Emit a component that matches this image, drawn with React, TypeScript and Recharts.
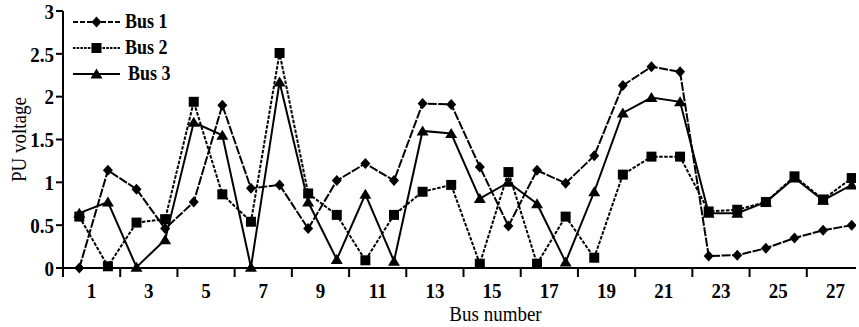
import { Legend, Line, LineChart, XAxis, YAxis } from "recharts";

const busNumbers = [
  1, 2, 3, 4, 5, 6, 7, 8, 9, 10, 11, 12, 13, 14, 15, 16, 17, 18, 19, 20, 21,
  22, 23, 24, 25, 26, 27, 28,
];
const bus1 = [
  0, 1.14, 0.92, 0.46, 0.77, 1.9, 0.93, 0.97, 0.46, 1.02, 1.22, 1.02, 1.92,
  1.91, 1.18, 0.49, 1.14, 0.99, 1.31, 2.13, 2.35, 2.29, 0.14, 0.15, 0.23, 0.35,
  0.44, 0.5,
];
const bus2 = [
  0.6, 0.02, 0.53, 0.57, 1.94, 0.86, 0.54, 2.51, 0.87, 0.62, 0.09, 0.62, 0.89,
  0.97, 0.05, 1.12, 0.05, 0.6, 0.12, 1.09, 1.3, 1.3, 0.66, 0.68, 0.77, 1.07,
  0.8, 1.05,
];
const bus3 = [
  0.64, 0.77, 0.01, 0.33, 1.7, 1.55, 0.01, 2.17, 0.77, 0.1, 0.86, 0.08, 1.6,
  1.57, 0.81, 1.0, 0.75, 0.07, 0.89, 1.81, 1.99, 1.94, 0.64, 0.64, 0.77, 1.05,
  0.79, 0.97,
];
const yTicks = [0, 0.5, 1, 1.5, 2, 2.5, 3];
const xTickLabels = [1, 3, 5, 7, 9, 11, 13, 15, 17, 19, 21, 23, 25, 27];

// labels sit between the tick marks, ticks fall just before every odd bus
const SHIFT = 0.43;
const labelPos = xTickLabels.map((n) => n + SHIFT);
const tickPos = xTickLabels.map((n) => n - 1 + SHIFT);
const X_DOMAIN = [SHIFT, 28.15];

const data = busNumbers.map((bus, i) => ({
  bus,
  bus1: bus1[i],
  bus2: bus2[i],
  bus3: bus3[i],
}));

const series = [
  { key: "bus1", name: "Bus 1", dash: "9 1.5", shape: "diamond" },
  { key: "bus2", name: "Bus 2", dash: "3.5 1.5", shape: "square" },
  { key: "bus3", name: "Bus 3", dash: undefined, shape: "triangle" },
];

const FONT = "'Liberation Serif', 'Times New Roman', serif";
const STRETCH = "scale(1,1.15)"; // source text is a bit taller than Times

function markerPath(shape: string, x: number, y: number) {
  if (shape === "diamond")
    return `M${x},${y - 5.5}L${x + 5},${y}L${x},${y + 5.5}L${x - 5},${y}Z`;
  if (shape === "square") return `M${x - 5},${y - 5}h10v10h-10Z`;
  return `M${x},${y - 5.5}L${x + 6},${y + 4.5}L${x - 6},${y + 4.5}Z`;
}

const makeDot = (shape: string) => (props: any) => {
  const { cx, cy, index } = props;
  if (cx == null || cy == null) return <g key={index} />;
  return <path key={index} d={markerPath(shape, cx, cy)} fill="#000" />;
};

const XTick = (props: any) => {
  const { x, y, payload } = props;
  return (
    <g transform={`translate(${x},${y}) ${STRETCH}`}>
      <text
        textAnchor="middle"
        dy="0.71em"
        fontFamily={FONT}
        fontWeight="bold"
        fontSize={19}
        fill="#000"
      >
        {Math.round(payload.value - SHIFT)}
      </text>
    </g>
  );
};

const YTick = (props: any) => {
  const { x, y, payload } = props;
  return (
    <g transform={`translate(${x},${y}) ${STRETCH}`}>
      <text
        textAnchor="end"
        dy="0.355em"
        fontFamily={FONT}
        fontWeight="bold"
        fontSize={19}
        fill="#000"
      >
        {payload.value}
      </text>
    </g>
  );
};

const XTitle = (props: any) => {
  const vb = props.viewBox;
  const x = vb.x + vb.width / 2 + 36;
  const y = vb.y + vb.height - 6;
  return (
    <g transform={`translate(${x},${y}) ${STRETCH}`}>
      <text textAnchor="middle" fontFamily={FONT} fontSize={19} fill="#000">
        Bus number
      </text>
    </g>
  );
};

const YTitle = (props: any) => {
  const vb = props.viewBox;
  const y = vb.y + vb.height / 2;
  return (
    <g transform={`translate(18,${y}) rotate(-90) ${STRETCH}`}>
      <text
        textAnchor="middle"
        dy="0.355em"
        fontFamily={FONT}
        fontSize={19}
        fill="#000"
      >
        PU voltage
      </text>
    </g>
  );
};

const LegendBox = () => (
  <svg width={120} height={90} style={{ display: "block" }}>
    {series.map((s, i) => {
      const y = 14 + i * 26;
      return (
        <g key={s.key}>
          <line
            x1={3}
            x2={50}
            y1={y}
            y2={y}
            stroke="#000"
            strokeWidth={2}
            strokeDasharray={s.dash === undefined ? undefined : i === 0 ? "5 2" : "2.5 1.2"}
          />
          <path d={markerPath(s.shape, 26.5, y)} fill="#000" />
          <g transform={`translate(${i === 2 ? 58 : 55},${y + 6}) ${STRETCH}`}>
            <text fontFamily={FONT} fontWeight="bold" fontSize={18} fill="#000">
              {s.name}
            </text>
          </g>
        </g>
      );
    })}
  </svg>
);

export default function App() {
  return (
    <div style={{ position: "absolute", left: 0, top: 0 }}>
      <LineChart
        width={859}
        height={327}
        data={data}
        margin={{ top: 11, right: 3, bottom: 0, left: 0 }}
        style={{ fontFamily: FONT }}
      >
        <XAxis
          xAxisId="grid"
          type="number"
          dataKey="bus"
          domain={X_DOMAIN}
          allowDataOverflow
          ticks={tickPos}
          interval={0}
          height={9}
          tickSize={9}
          tickFormatter={() => ""}
          axisLine={{ stroke: "#000", strokeWidth: 2 }}
          tickLine={{ stroke: "#000", strokeWidth: 2 }}
        />
        <XAxis
          xAxisId="lbl"
          type="number"
          dataKey="bus"
          domain={X_DOMAIN}
          allowDataOverflow
          ticks={labelPos}
          interval={0}
          height={50}
          tickSize={0}
          tickMargin={5}
          axisLine={false}
          tickLine={false}
          tick={<XTick />}
          label={<XTitle />}
        />
        <YAxis
          width={63}
          domain={[0, 3]}
          ticks={yTicks}
          interval={0}
          tickSize={7}
          tickMargin={2}
          axisLine={{ stroke: "#000", strokeWidth: 2 }}
          tickLine={{ stroke: "#000", strokeWidth: 2 }}
          tick={<YTick />}
          label={<YTitle />}
        />
        <Legend
          layout="vertical"
          align="center"
          verticalAlign="middle"
          wrapperStyle={{ position: "absolute", left: 70, top: 8, width: 120 }}
          content={() => <LegendBox />}
        />
        {series.map((s) => (
          <Line
            key={s.key}
            xAxisId="grid"
            type="linear"
            dataKey={s.key}
            name={s.name}
            stroke="#000"
            strokeWidth={2}
            strokeDasharray={s.dash}
            dot={makeDot(s.shape)}
            activeDot={false}
            isAnimationActive={false}
          />
        ))}
      </LineChart>
    </div>
  );
}
